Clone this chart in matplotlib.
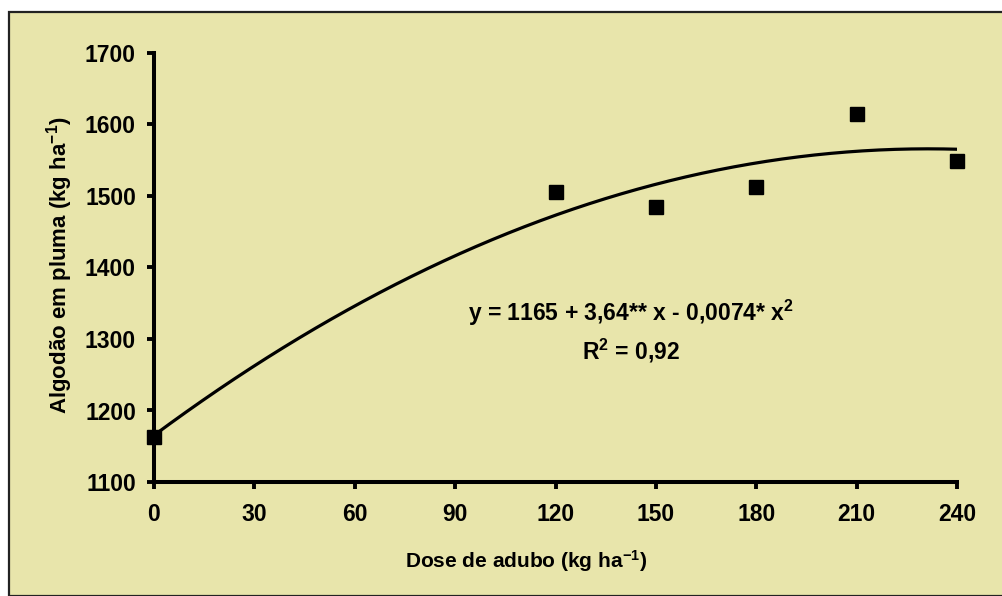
import numpy as np
import matplotlib
matplotlib.use("Agg")
import matplotlib.pyplot as plt
from matplotlib.patches import Rectangle

# Data
dose = [0, 120, 150, 180, 210, 240]
algodao = [1163, 1505, 1485, 1513, 1614, 1549]
x_ticks = [0, 30, 60, 90, 120, 150, 180, 210, 240]
y_ticks = [1100, 1200, 1300, 1400, 1500, 1600, 1700]
equation = "y = 1165 + 3,64** x - 0,0074* x$^{2}$"
r2_text = "R$^{2}$ = 0,92"

bg = "#E8E5AB"
plt.rcParams['font.family'] = ['Liberation Sans', 'DejaVu Sans']
plt.rcParams['font.weight'] = 'bold'
plt.rcParams['mathtext.fontset'] = 'custom'
plt.rcParams['mathtext.rm'] = 'Liberation Sans:bold'
plt.rcParams['mathtext.default'] = 'rm'

W, H = 1002, 596
fig = plt.figure(figsize=(W / 100, H / 100), dpi=100, facecolor="white")
# framed background
frame = Rectangle((9 / W, 0), 1.0, 1 - 12 / H, transform=fig.transFigure,
                  facecolor=bg, edgecolor="#222222", linewidth=1.6, zorder=-10)
fig.add_artist(frame)

ax = fig.add_axes([154 / W, 1 - 482 / H, (957 - 154) / W, (482 - 53) / H])
ax.set_facecolor("none")
ax.set_zorder(5)

# quadratic trend from data
coef = np.polyfit(dose, algodao, 2)
xs = np.linspace(0, 240, 300)
ax.plot(xs, np.polyval(coef, xs), color="black", lw=2.3, zorder=2)
ax.plot(dose, algodao, linestyle="none", marker="s", markersize=10.5,
        color="black", zorder=3, clip_on=False)

ax.set_xlim(0, 240)
ax.set_ylim(1100, 1700)
ax.set_xticks(x_ticks)
ax.set_yticks(y_ticks)
ax.tick_params(axis="both", direction="out", width=2.8, length=5, labelsize=16.5)
ax.tick_params(axis="x", pad=10)
ax.tick_params(axis="y", pad=8)
for lab in ax.get_xticklabels() + ax.get_yticklabels():
    lab.set_fontweight("bold")
for s in ["top", "right"]:
    ax.spines[s].set_visible(False)
for s in ["left", "bottom"]:
    ax.spines[s].set_linewidth(2.9)

ax.text(142.5, 1336, equation, ha="center", va="center", fontsize=16.5, fontweight="bold")
ax.text(142.5, 1284, r2_text, ha="center", va="center", fontsize=16.5, fontweight="bold")

fig.text(526 / W, 1 - 561 / H, "Dose de adubo (kg ha$^{-1}$)", ha="center", va="center",
         fontsize=15, fontweight="bold", zorder=6)
fig.text(60 / W, 1 - 265 / H, "Algodão em pluma (kg ha$^{-1}$)", ha="center", va="center",
         rotation=90, fontsize=16, fontweight="bold", zorder=6)

fig.savefig("out.png", dpi=100, facecolor="white")
